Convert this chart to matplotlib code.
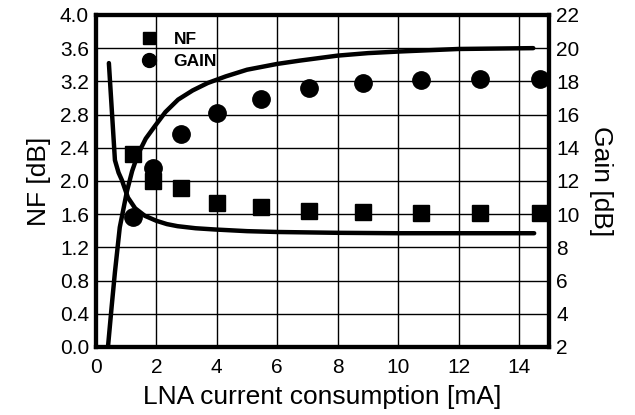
import matplotlib
matplotlib.use("Agg")
import matplotlib.pyplot as plt
from matplotlib.lines import Line2D

plt.rcParams["font.family"] = ["Liberation Sans", "DejaVu Sans"]

# Messpunkte
strom_mess = [1.22, 1.9, 2.83, 4.0, 5.45, 7.06, 8.85, 10.75, 12.7, 14.7]
nf_mess = [2.32, 2.00, 1.92, 1.74, 1.68, 1.64, 1.62, 1.61, 1.61, 1.61]
gain_mess = [9.8, 12.8, 14.8, 16.1, 16.95, 17.6, 17.9, 18.08, 18.15, 18.15]

# Simulation
strom_sim_nf = [0.43, 0.63, 0.75, 0.86, 1.06, 1.3, 1.62, 2.0, 2.35, 2.7, 3.3, 3.94,
                5.0, 6.0, 8.0, 10.0, 12.0, 14.5]
nf_sim = [3.42, 2.25, 2.1, 2.01, 1.8, 1.67, 1.58, 1.52, 1.48, 1.455, 1.43, 1.415,
          1.395, 1.385, 1.375, 1.37, 1.37, 1.37]
strom_sim_gain = [0.40, 0.52, 0.63, 0.79, 1.03, 1.2, 1.39, 1.65, 1.95, 2.3, 2.72, 3.2,
                  3.7, 4.3, 5.0, 6.0, 6.75, 8.0, 9.0, 10.07, 12.0, 14.47]
gain_sim = [2.0, 4.4, 6.5, 9.2, 11.4, 12.6, 13.6, 14.55, 15.3, 16.15, 16.9, 17.45,
            17.9, 18.3, 18.7, 19.05, 19.25, 19.55, 19.7, 19.8, 19.95, 20.0]

fig = plt.figure(figsize=(6.35, 4.15), dpi=100)
ax = fig.add_axes([0.151, 0.164, 0.714, 0.800])
ax2 = ax.twinx()

ax.plot(strom_sim_nf, nf_sim, "k-", lw=3.2, solid_capstyle="round", solid_joinstyle="round")
ax.plot(strom_mess, nf_mess, "ks", ms=11, clip_on=False)
ax2.plot(strom_sim_gain, gain_sim, "k-", lw=3.2, solid_capstyle="round", solid_joinstyle="round")
ax2.plot(strom_mess, gain_mess, "ko", ms=12.5, clip_on=False)

ax.set_xlim(0, 15)
ax.set_ylim(0, 4.0)
ax2.set_ylim(2, 22)
ax.set_xticks(range(0, 15, 2))
ax.set_yticks([i * 0.4 for i in range(11)])
ax.set_yticklabels([f"{i * 0.4:.1f}" for i in range(11)])
ax2.set_yticks(range(2, 23, 2))

ax.grid(True, color="black", lw=1)
for a in (ax, ax2):
    a.tick_params(length=0, labelsize=15, pad=5)
    for s in a.spines.values():
        s.set_linewidth(3)
ax.tick_params(axis="x", pad=8)

ax.set_xlabel("LNA current consumption [mA]", fontsize=19, labelpad=6)
ax.set_ylabel("NF [dB]", fontsize=19, labelpad=6)
ax2.set_ylabel("Gain [dB]", fontsize=19, rotation=270, labelpad=24)

griffe = [Line2D([], [], color="k", marker="s", ls="", ms=9),
          Line2D([], [], color="k", marker="o", ls="", ms=10)]
ax.legend(griffe, ["NF", "GAIN"], loc="upper left", bbox_to_anchor=(0.06, 0.995),
          frameon=False, prop={"weight": "bold", "size": 12.5},
          handletextpad=0.8, labelspacing=0.35, handlelength=1.2)

fig.savefig("out.png")
